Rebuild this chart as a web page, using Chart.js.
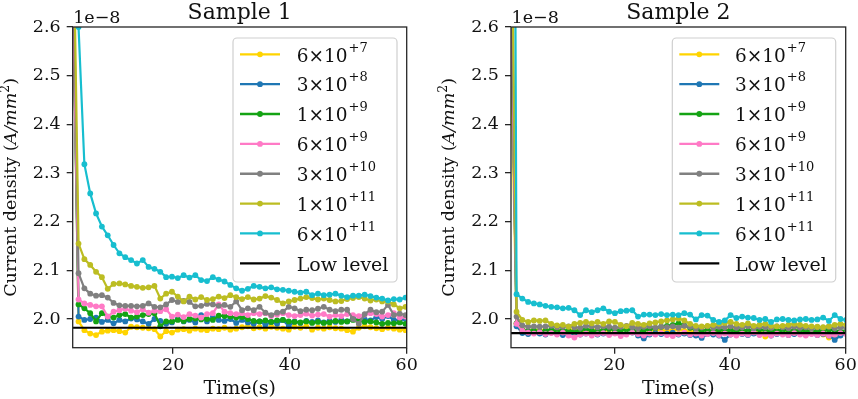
<!DOCTYPE html>
<html><head><meta charset="utf-8">
<script src="https://cdn.jsdelivr.net/npm/chart.js@4.4.0/dist/chart.umd.min.js"></script>
<style>
html,body{margin:0;padding:0;background:#fff;}
#wrap{position:relative;width:858px;height:399px;background:#fff;}
#c1{position:absolute;left:0;top:0;}
#c2{position:absolute;left:430px;top:0;}
</style></head><body>
<div id="wrap"><canvas id="c1" width="430" height="399"></canvas><canvas id="c2" width="428" height="399"></canvas></div>
<script>
// ---------------- data ----------------
const legendMantissa = ['6', '3', '1', '6', '3', '1', '6'];
const legendExponent = ['+7', '+8', '+9', '+9', '+10', '+11', '+11'];
const seriesColors = ['#ffd400', '#1f77b4', '#14a314', '#ff7ac6', '#808080', '#bcbd22', '#17becf'];
const lowLevelLabel = 'Low level';
const xTickValues = [20, 40, 60];
const yTickValues = [2.0, 2.1, 2.2, 2.3, 2.4, 2.5, 2.6];

const time1 = [2.8,3.8,4.8,5.8,6.8,7.8,8.8,9.8,10.8,11.8,12.8,13.8,14.8,15.8,16.8,17.8,18.8,19.8,20.8,21.8,22.8,23.8,24.8,25.8,26.8,27.8,28.8,29.8,30.8,31.8,32.8,33.8,34.8,35.8,36.8,37.8,38.8,39.8,40.8,41.8,42.8,43.8,44.8,45.8,46.8,47.8,48.8,49.8,50.8,51.8,52.8,53.8,54.8,55.8,56.8,57.8,58.8,59.8];
const s1_6e7  = [2.7,1.995,1.977,1.97,1.967,1.974,1.976,1.977,1.975,1.972,1.984,1.983,1.982,1.981,1.979,1.964,1.975,1.972,1.978,1.979,1.976,1.98,1.978,1.977,1.98,1.979,1.982,1.978,1.98,1.983,1.985,1.981,1.983,1.98,1.984,1.982,1.98,1.978,1.984,1.982,1.985,1.978,1.982,1.98,1.983,1.981,1.98,1.977,1.974,1.982,1.985,1.983,1.981,1.979,1.982,1.98,1.978,1.977];
const s1_3e8  = [2.7,2.005,1.998,2.0,2.003,1.994,1.998,1.991,1.998,1.995,2.001,1.999,1.995,1.99,2.0,1.996,1.99,1.993,2.0,1.995,1.998,1.993,2.008,1.995,2.004,1.998,1.996,2.0,1.992,1.998,1.993,1.99,1.995,1.988,1.994,1.99,1.998,1.985,1.995,1.992,1.996,1.994,1.997,1.993,1.996,1.994,1.998,1.995,2.002,1.996,1.999,1.997,2.004,2.0,2.006,1.998,1.997,2.0];
const s1_1e9  = [2.7,2.03,2.022,2.012,1.995,2.012,2.005,2.003,2.008,2.01,2.003,2.005,2.008,2.01,2.012,1.985,1.995,1.995,1.998,1.996,2.0,2.001,1.999,2.0,1.998,2.007,2.006,2.005,2.003,2.004,2.0,1.996,1.995,1.997,1.994,1.997,1.998,1.995,1.994,1.993,1.995,1.992,1.994,1.992,1.993,1.996,1.994,1.995,1.998,1.997,1.994,1.995,1.993,1.99,1.992,1.991,1.993,1.99];
const s1_6e9  = [2.7,2.04,2.032,2.029,2.026,2.026,2.005,2.015,2.018,2.021,2.017,2.014,2.02,2.013,2.017,2.016,2.02,2.005,2.009,2.004,2.01,2.007,2.003,2.01,2.012,2.03,2.015,2.012,2.01,2.012,2.008,2.012,2.01,2.012,2.006,2.009,2.012,2.008,2.006,2.008,2.011,2.007,2.009,2.01,2.005,2.008,2.006,2.01,2.008,2.006,2.009,2.012,2.01,2.005,2.008,2.012,2.003,2.005];
const s1_3e10 = [2.8,2.094,2.063,2.052,2.048,2.049,2.044,2.033,2.028,2.027,2.027,2.026,2.027,2.032,2.025,2.024,2.03,2.039,2.035,2.037,2.035,2.026,2.027,2.031,2.03,2.027,2.029,2.025,2.036,2.018,2.022,2.018,2.025,2.013,2.008,2.013,2.015,2.025,2.022,2.016,2.019,2.018,2.021,2.025,2.019,2.016,2.019,2.019,2.0,1.99,2.01,2.019,2.014,2.015,2.029,2.008,2.011,2.008];
const s1_1e11 = [2.9,2.155,2.123,2.111,2.097,2.086,2.062,2.072,2.073,2.071,2.068,2.066,2.064,2.065,2.068,2.042,2.052,2.056,2.046,2.036,2.046,2.04,2.045,2.039,2.041,2.046,2.043,2.049,2.045,2.041,2.045,2.04,2.042,2.047,2.044,2.039,2.032,2.036,2.039,2.042,2.045,2.043,2.04,2.042,2.039,2.036,2.037,2.041,2.043,2.045,2.042,2.038,2.04,2.036,2.036,2.03,2.022,2.025];
const s1_6e11 = [3.2,2.6,2.318,2.258,2.217,2.19,2.172,2.152,2.135,2.127,2.121,2.114,2.121,2.107,2.103,2.097,2.086,2.087,2.084,2.09,2.085,2.09,2.08,2.078,2.086,2.081,2.077,2.07,2.063,2.058,2.062,2.068,2.066,2.063,2.065,2.061,2.06,2.058,2.056,2.054,2.056,2.049,2.052,2.049,2.05,2.052,2.048,2.045,2.048,2.048,2.05,2.047,2.044,2.042,2.038,2.041,2.04,2.044];
const lowLevel1 = 1.982;

const time2 = [2.1,3.1,4.1,5.1,6.1,7.1,8.1,9.1,10.1,11.1,12.1,13.1,14.1,15.1,16.1,17.1,18.1,19.1,20.1,21.1,22.1,23.1,24.1,25.1,26.1,27.1,28.1,29.1,30.1,31.1,32.1,33.1,34.1,35.1,36.1,37.1,38.1,39.1,40.1,41.1,42.1,43.1,44.1,45.1,46.1,47.1,48.1,49.1,50.1,51.1,52.1,53.1,54.1,55.1,56.1,57.1,58.1,59.1,60.1];
const s2_6e7  = [2.55,1.99,1.978,1.975,1.977,1.976,1.978,1.975,1.977,1.974,1.976,1.979,1.976,1.975,1.978,1.977,1.975,1.978,1.98,1.977,1.979,1.982,1.984,1.979,1.977,1.976,1.978,1.975,1.977,1.979,1.976,1.975,1.977,1.979,1.976,1.978,1.975,1.977,1.979,1.983,1.978,1.976,1.975,1.978,1.964,1.976,1.978,1.975,1.977,1.976,1.974,1.977,1.975,1.973,1.968,1.962,1.966,1.972,1.975];
const s2_3e8  = [2.7,1.985,1.971,1.969,1.972,1.97,1.968,1.972,1.97,1.967,1.969,1.971,1.968,1.97,1.972,1.968,1.97,1.969,1.971,1.968,1.97,1.972,1.966,1.96,1.968,1.971,1.969,1.97,1.972,1.968,1.97,1.967,1.966,1.961,1.969,1.968,1.966,1.957,1.968,1.971,1.969,1.967,1.97,1.968,1.971,1.966,1.969,1.97,1.967,1.969,1.971,1.968,1.97,1.967,1.969,1.966,1.957,1.966,1.97];
const s2_1e9  = [2.7,1.991,1.978,1.975,1.977,1.974,1.976,1.978,1.975,1.977,1.976,1.974,1.977,1.979,1.976,1.975,1.978,1.98,1.977,1.976,1.979,1.977,1.975,1.977,1.979,1.981,1.984,1.986,1.988,1.991,1.987,1.982,1.978,1.976,1.977,1.975,1.978,1.976,1.977,1.975,1.978,1.976,1.977,1.979,1.976,1.975,1.977,1.976,1.978,1.975,1.977,1.976,1.974,1.977,1.975,1.978,1.976,1.974,1.976];
const s2_6e9  = [2.7,1.99,1.976,1.972,1.97,1.973,1.969,1.971,1.968,1.972,1.966,1.962,1.968,1.97,1.966,1.969,1.971,1.967,1.97,1.965,1.968,1.972,1.969,1.966,1.97,1.968,1.971,1.967,1.965,1.969,1.972,1.968,1.97,1.966,1.969,1.971,1.967,1.97,1.968,1.966,1.97,1.968,1.972,1.967,1.969,1.966,1.97,1.968,1.967,1.971,1.968,1.966,1.969,1.967,1.97,1.966,1.968,1.971,1.969];
const s2_3e10 = [2.8,2.005,1.987,1.984,1.985,1.984,1.985,1.986,1.983,1.984,1.985,1.983,1.982,1.986,1.985,1.983,1.985,1.984,1.982,1.984,1.986,1.983,1.981,1.984,1.985,1.982,1.984,1.983,1.985,1.982,1.986,1.984,1.98,1.983,1.985,1.982,1.984,1.983,1.985,1.982,1.983,1.985,1.981,1.984,1.983,1.982,1.985,1.983,1.981,1.984,1.982,1.983,1.981,1.983,1.982,1.984,1.981,1.983,1.982];
const s2_1e11 = [3.0,2.015,1.998,1.994,1.997,1.996,1.997,1.99,1.987,1.988,1.984,1.99,1.992,1.994,1.991,1.994,1.99,1.995,1.994,1.988,1.985,1.992,1.99,1.988,1.991,1.993,1.995,1.997,1.999,2.001,1.997,1.99,1.986,1.985,1.986,1.988,1.99,1.992,1.994,1.99,1.988,1.991,1.986,1.988,1.99,1.986,1.985,1.986,1.988,1.99,1.988,1.986,1.985,1.984,1.983,1.985,1.988,1.99,1.988];
const s2_6e11 = [5.0,2.051,2.042,2.035,2.032,2.03,2.027,2.025,2.024,2.022,2.023,2.018,2.008,2.018,2.014,2.018,2.022,2.015,2.012,2.016,2.017,2.018,2.005,2.009,2.009,2.008,2.01,2.008,2.009,2.008,2.012,2.009,1.999,2.008,2.007,1.998,1.994,1.997,2.008,2.002,2.005,2.003,2.002,1.998,2.0,1.994,1.999,2.0,1.998,1.997,1.999,2.0,1.998,1.999,2.003,1.996,2.008,2.0,1.998];
const lowLevel2 = 1.971;

// ---------------- drawing ----------------
const SERIF = "'DejaVu Serif', serif";
const INK = '#111';

function rr(ctx, x, y, w, h, r) {
  ctx.beginPath();
  ctx.moveTo(x + r, y); ctx.lineTo(x + w - r, y); ctx.arcTo(x + w, y, x + w, y + r, r);
  ctx.lineTo(x + w, y + h - r); ctx.arcTo(x + w, y + h, x + w - r, y + h, r);
  ctx.lineTo(x + r, y + h); ctx.arcTo(x, y + h, x, y + h - r, r);
  ctx.lineTo(x, y + r); ctx.arcTo(x, y, x + r, y, r); ctx.closePath();
}

function decorPlugin(cfg) {
  return {
    id: 'decor',
    afterDraw(chart) {
      const ctx = chart.ctx, a = chart.chartArea;
      ctx.save();
      // spines
      ctx.strokeStyle = '#262626'; ctx.lineWidth = 1.3;
      ctx.strokeRect(a.left, a.top, a.right - a.left, a.bottom - a.top);
      // title
      ctx.fillStyle = INK; ctx.textAlign = 'center'; ctx.textBaseline = 'alphabetic';
      ctx.font = '22px ' + SERIF;
      ctx.fillText(cfg.title, (a.left + a.right) / 2, 18.5);
      // offset text
      ctx.textAlign = 'left'; ctx.font = '17.5px ' + SERIF;
      ctx.fillText('1e\u22128', a.left + 0.5, 23);
      // x label
      ctx.textAlign = 'center'; ctx.font = '19px ' + SERIF;
      ctx.fillText('Time(s)', (a.left + a.right) / 2, 393.5);
      // y label (mixed fonts)
      const parts = [
        {t: 'Current density (', f: '17.5px ' + SERIF, dy: 0},
        {t: 'A/mm', f: 'italic 17.5px ' + SERIF, dy: 0},
        {t: '2', f: '12.5px ' + SERIF, dy: -7},
        {t: ')', f: '17.5px ' + SERIF, dy: 0}
      ];
      let tot = 0;
      parts.forEach(p => { ctx.font = p.f; p.w = ctx.measureText(p.t).width; tot += p.w; });
      ctx.translate(cfg.yLabelX, (a.top + a.bottom) / 2);
      ctx.rotate(-Math.PI / 2);
      ctx.textAlign = 'left';
      let px = -tot / 2;
      parts.forEach(p => { ctx.font = p.f; ctx.fillText(p.t, px, p.dy); px += p.w; });
      ctx.restore();
      // legend
      ctx.save();
      const L = cfg.legend;
      rr(ctx, L.x, L.y, L.w, L.h, 4);
      ctx.fillStyle = 'rgba(255,255,255,0.85)'; ctx.fill();
      ctx.strokeStyle = '#cfcfcf'; ctx.lineWidth = 1.2; ctx.stroke();
      chart.data.datasets.forEach((ds, i) => {
        const y = L.row0 + i * L.gap;
        ctx.strokeStyle = ds.borderColor; ctx.lineWidth = 2.3;
        ctx.beginPath(); ctx.moveTo(L.hx, y); ctx.lineTo(L.hx + 40, y); ctx.stroke();
        if (ds.pointRadius > 0) {
          ctx.fillStyle = ds.borderColor;
          ctx.beginPath(); ctx.arc(L.hx + 20, y, 2.9, 0, Math.PI * 2); ctx.fill();
        }
        ctx.fillStyle = INK; ctx.textAlign = 'left'; ctx.textBaseline = 'alphabetic';
        if (i < legendMantissa.length) {
          ctx.font = '18.5px ' + SERIF;
          const m = legendMantissa[i] + '\u00d710';
          ctx.fillText(m, L.tx, y + 7.2);
          const w = ctx.measureText(m).width;
          ctx.font = '13px ' + SERIF;
          ctx.fillText(legendExponent[i], L.tx + w + 1, y - 2.8);
        } else {
          ctx.font = '19px ' + SERIF;
          ctx.fillText(ds.label, L.tx, y + 7.2);
        }
      });
      ctx.restore();
    }
  };
}

function makeChart(id, cfg) {
  const datasets = cfg.series.map((vals, i) => ({
    label: legendMantissa[i] + '\u00d710^' + legendExponent[i],
    data: cfg.times.map((t, k) => ({x: t, y: vals[k]})),
    borderColor: seriesColors[i], backgroundColor: seriesColors[i],
    pointBackgroundColor: seriesColors[i], pointBorderWidth: 0,
    pointRadius: 2.9, pointHoverRadius: 0, borderWidth: 2.2, tension: 0, fill: false,
    order: 20 - i
  }));
  datasets.push({
    label: lowLevelLabel,
    data: [{x: cfg.xMin, y: cfg.low}, {x: 60, y: cfg.low}],
    borderColor: '#000', backgroundColor: '#000', borderWidth: 2.2, pointRadius: 0,
    pointHoverRadius: 0, fill: false, order: 0
  });
  const tickStyle = {font: {family: SERIF, size: 17.5}, color: INK, maxRotation: 0, autoSkip: false};
  const gridStyle = {drawOnChartArea: false, drawTicks: true, tickLength: 6, color: '#262626', lineWidth: 1.3};
  return new Chart(document.getElementById(id), {
    type: 'line',
    data: {datasets},
    options: {
      responsive: false, animation: false, devicePixelRatio: 1,
      layout: {padding: {left: 0, top: 27, right: cfg.padRight, bottom: 0}},
      plugins: {legend: {display: false}, tooltip: {enabled: false}, title: {display: false}},
      scales: {
        x: {
          type: 'linear', min: cfg.xMin, max: 60,
          afterBuildTicks: s => { s.ticks = xTickValues.map(v => ({value: v})); },
          afterFit: s => { s.height = 51.3; },
          grid: gridStyle, border: {display: false},
          ticks: Object.assign({padding: 1, callback: v => String(v)}, tickStyle)
        },
        y: {
          type: 'linear', min: 1.941, max: 2.6,
          afterBuildTicks: s => { s.ticks = yTickValues.map(v => ({value: v})); },
          afterFit: s => { s.width = cfg.left; },
          grid: gridStyle, border: {display: false},
          ticks: Object.assign({padding: 6, callback: v => Number(v).toFixed(1)}, tickStyle)
        }
      }
    },
    plugins: [decorPlugin(cfg)]
  });
}

makeChart('c1', {
  title: 'Sample 1', times: time1, xMin: 2.8, low: lowLevel1, left: 72.7, padRight: 23.3, yLabelX: 16,
  series: [s1_6e7, s1_3e8, s1_1e9, s1_6e9, s1_3e10, s1_1e11, s1_6e11],
  legend: {x: 233, y: 38, w: 164, h: 244, row0: 54.3, gap: 29.86, hx: 240, tx: 296.7}
});
makeChart('c2', {
  title: 'Sample 2', times: time2, xMin: 2.14, low: lowLevel2, left: 81, padRight: 12.3, yLabelX: 24,
  series: [s2_6e7, s2_3e8, s2_1e9, s2_6e9, s2_3e10, s2_1e11, s2_6e11],
  legend: {x: 242.3, y: 38, w: 163.4, h: 244, row0: 54.3, gap: 29.86, hx: 249.3, tx: 305}
});
</script>
</body></html>
